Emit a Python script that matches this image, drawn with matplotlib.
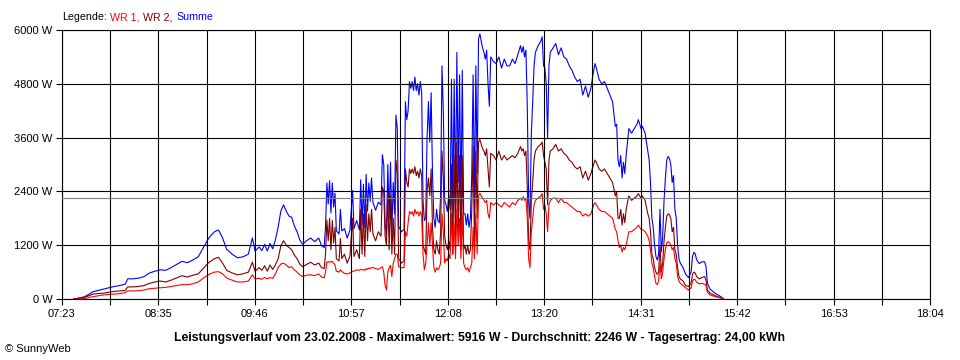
import matplotlib
matplotlib.use("Agg")
import matplotlib.pyplot as plt
import numpy as np

# Messzeitpunkte in Minuten nach Mitternacht
minutes = [
    452, 456, 460, 464, 466, 470, 474, 478, 482, 486, 490, 492,
    496, 500, 504, 508, 512, 516, 520, 524, 528, 532, 536, 540,
    544, 548, 552, 556, 559, 562, 565, 569, 573, 577, 581, 584,
    586, 589, 591, 593, 595, 597, 599, 601, 603, 605, 607, 609,
    611, 613, 615, 617, 619, 621, 624, 627, 630, 633, 635, 637,
    638, 639, 640, 641, 642, 643, 644, 645, 646, 648, 649, 650,
    652, 654, 656, 658, 659, 661, 663, 664, 665, 666, 667, 668,
    669, 670, 671, 672, 673, 675, 677, 679, 680, 681, 682, 683,
    684, 685, 686, 687, 688, 689, 690, 691, 692, 694, 696, 697,
    698, 699, 700, 701, 702, 703, 704, 705, 706, 707, 708, 709,
    710, 711, 712, 713, 714, 715, 716, 717, 718, 719, 720, 721,
    722, 723, 724, 725, 726, 727, 728, 729, 730, 731, 732, 733,
    734, 735, 736, 737, 738, 739, 740, 741, 742, 743, 744, 745,
    746, 747, 748, 749, 750, 751, 752, 753, 754, 755, 756, 757,
    758, 759, 760, 762, 764, 766, 768, 770, 772, 774, 776, 778,
    780, 782, 783, 784, 785, 786, 787, 788, 789, 790, 791, 792,
    793, 795, 797, 798, 799, 800, 801, 802, 803, 804, 806, 808,
    810, 812, 814, 816, 818, 820, 822, 824, 826, 828, 830, 832,
    834, 836, 837, 838, 840, 842, 844, 846, 848, 850, 852, 853,
    854, 855, 856, 857, 858, 859, 860, 861, 862, 864, 866, 868,
    869, 871, 872, 874, 876, 877, 878, 879, 880, 881, 882, 883,
    884, 885, 886, 887, 888, 889, 890, 891, 892, 893, 894, 895,
    896, 897, 898, 899, 900, 902, 904, 906, 908, 909, 910, 911,
    912, 914, 916, 918, 919, 920, 922, 924, 926, 928, 930, 932,
]

# Leistung Wechselrichter 1 (W)
wr1 = [
    0, 0, 10, 40, 50, 70, 90, 100, 110, 120, 140, 180,
    180, 185, 200, 230, 240, 250, 260, 280, 300, 320, 320, 340,
    380, 470, 550, 600, 610, 560, 470, 420, 380, 380, 400, 540,
    450, 460, 440, 480, 450, 480, 460, 560, 700, 780, 800, 760,
    700, 720, 650, 600, 540, 500, 530, 540, 520, 560, 490, 470,
    600, 830, 820, 840, 820, 840, 800, 760, 620, 600, 650, 620,
    570, 560, 580, 620, 620, 650, 640, 660, 650, 660, 640, 680,
    660, 690, 680, 700, 700, 680, 660, 700, 720, 600, 300, 200,
    600, 700, 750, 500, 800, 900, 1000, 1000, 720, 700, 700, 1500,
    1400, 1700, 1950, 1900, 1950, 1850, 2000, 1900, 1950, 1850, 1950, 1850,
    1000, 650, 800, 1200, 1700, 1200, 1700, 1200, 700, 600, 700, 650,
    700, 800, 1900, 1500, 800, 900, 850, 1000, 900, 1900, 1000, 1700,
    900, 2000, 1200, 1800, 900, 1900, 800, 700, 650, 700, 600, 700,
    800, 1600, 900, 1900, 1000, 2300, 2360, 2300, 2250, 2200, 2150, 2200,
    1900, 1800, 2150, 2100, 2150, 2100, 2050, 2150, 2100, 2050, 2150, 2100,
    2200, 2250, 2200, 2280, 2200, 2250, 1800, 900, 700, 1500, 1800, 2100,
    2200, 2250, 2300, 2350, 2000, 2100, 1900, 1500, 2100, 2200, 2250, 2250,
    2150, 2250, 2150, 2150, 2100, 2050, 2000, 1950, 1950, 1850, 1900, 1850,
    1900, 2100, 2150, 2100, 2000, 1950, 1950, 1900, 1850, 1800, 1550, 1500,
    1300, 1150, 1200, 1050, 1150, 1100, 1200, 1350, 1500, 1500, 1550, 1600,
    1650, 1550, 1550, 1500, 1400, 1300, 1100, 800, 700, 500, 350, 320,
    400, 800, 450, 600, 900, 1100, 1250, 1280, 1250, 1200, 1100, 1150,
    900, 800, 500, 400, 350, 300, 250, 200, 250, 400, 440, 430,
    380, 340, 350, 330, 300, 150, 90, 70, 50, 40, 20, 0,
]

# Leistung Wechselrichter 2 (W)
wr2 = [
    0, 20, 40, 80, 110, 120, 130, 150, 170, 180, 190, 270,
    270, 280, 300, 350, 380, 400, 380, 420, 470, 520, 490, 530,
    560, 690, 820, 900, 930, 800, 640, 580, 540, 560, 600, 820,
    620, 700, 640, 740, 620, 760, 660, 760, 900, 1180, 1300, 1200,
    1150, 1100, 980, 900, 780, 720, 770, 820, 760, 800, 700, 680,
    1000, 1760, 1300, 1800, 1100, 1750, 1250, 1600, 900, 850, 1350, 900,
    1000, 800, 950, 1800, 950, 1100, 900, 2000, 1000, 1900, 950, 2100,
    1300, 1900, 1500, 2000, 1450, 1300, 1500, 1400, 2500, 2400, 1400, 1200,
    2400, 1100, 2300, 1000, 1800, 1000, 3100, 2800, 900, 800, 850, 2900,
    2600, 2500, 2900, 2800, 2900, 2800, 2950, 2750, 2850, 2700, 2900, 2750,
    1200, 1100, 1000, 2400, 2700, 2300, 2900, 1600, 1100, 1000, 1300, 1100,
    1000, 1500, 3300, 2700, 1400, 1200, 1100, 1300, 1100, 3000, 1000, 3200,
    1200, 3500, 1400, 3200, 1100, 3200, 1100, 1200, 1000, 1200, 1000, 1100,
    2000, 3400, 1200, 3300, 1800, 3500, 3556, 3450, 3350, 3300, 3200, 3350,
    2900, 2500, 3250, 3200, 3100, 3300, 3100, 3200, 3100, 3150, 3200, 3150,
    3250, 3400, 3300, 3350, 3200, 3300, 2500, 1300, 1100, 2200, 2600, 3100,
    3300, 3400, 3450, 3500, 3200, 3050, 2900, 2100, 3100, 3300, 3350, 3450,
    3300, 3350, 3250, 3200, 3100, 3050, 2950, 2900, 2950, 2700, 2850, 2650,
    2800, 3000, 3100, 3050, 2900, 2850, 2900, 2800, 2700, 2600, 2300, 2400,
    1800, 1800, 2000, 1650, 1900, 1700, 2000, 2150, 2300, 2200, 2250, 2300,
    2350, 2250, 2300, 2200, 1900, 1800, 1500, 1000, 900, 700, 600, 550,
    600, 1200, 600, 800, 1300, 1600, 1850, 1900, 1880, 1800, 1500, 1600,
    1100, 1000, 700, 500, 450, 400, 300, 280, 350, 550, 600, 580,
    500, 450, 480, 500, 420, 200, 130, 100, 70, 50, 30, 0,
]

x_tick_labels = ["07:23", "08:35", "09:46", "10:57", "12:08",
                 "13:20", "14:31", "15:42", "16:53", "18:04"]
y_ticks = [0, 1200, 2400, 3600, 4800, 6000]
durchschnitt = 2246
t_start, t_end = 443.4, 1084.4

# Summe beider Wechselrichter
summe = np.array(wr1) + np.array(wr2)

plt.rcParams["font.family"] = ["Liberation Sans", "DejaVu Sans"]
fig = plt.figure(figsize=(9.6, 3.6), dpi=100)
ax = fig.add_axes([62 / 960, 61 / 360, 868 / 960, 269 / 360])

ax.plot(minutes, summe, color="#0000ff", lw=0.8)
ax.plot(minutes, wr2, color="#800000", lw=0.8)
ax.plot(minutes, wr1, color="#ff0000", lw=0.8)
ax.axhline(durchschnitt, color="#808080", lw=0.8, zorder=3)

ax.set_xlim(t_start, t_end)
ax.set_ylim(0, 6000)
grid_x = np.linspace(t_start, t_end, 2 * len(x_tick_labels) - 1)
ax.set_xticks(grid_x)
labels = []
for i in range(len(grid_x)):
    labels.append(x_tick_labels[i // 2] if i % 2 == 0 else "")
ax.set_xticklabels(labels)
ax.set_yticks(y_ticks)
ax.set_yticklabels([f"{v} W" for v in y_ticks])
ax.set_axisbelow(False)
ax.grid(True, color="black", lw=0.8)
ax.tick_params(length=4, width=0.8, pad=3, labelsize=8)
for s in ax.spines.values():
    s.set_linewidth(0.8)

# Legende oben links, farbig
fig.canvas.draw()
renderer = fig.canvas.get_renderer()
x = 62 / 960
y = 1 - 17 / 360
gap = 3.5 / 960
parts = [("Legende:", "black"), ("WR 1,", "#ff0000"), ("WR 2,", "#800000"), ("Summe", "#0000ff")]
for text, col in parts:
    t = fig.text(x, y, text, color=col, fontsize=7.7, va="center")
    bb = t.get_window_extent(renderer)
    x += bb.width / fig.bbox.width + gap

fig.text(0.5, 1 - 338 / 360,
         "Leistungsverlauf vom 23.02.2008 - Maximalwert: 5916 W - Durchschnitt: 2246 W - Tagesertrag: 24,00 kWh",
         ha="center", va="center", fontsize=8.8, fontweight="bold")
fig.text(5 / 960, 1 - 349 / 360, "© SunnyWeb", fontsize=8, va="center")

fig.savefig("out.png", dpi=100)
plt.close()
